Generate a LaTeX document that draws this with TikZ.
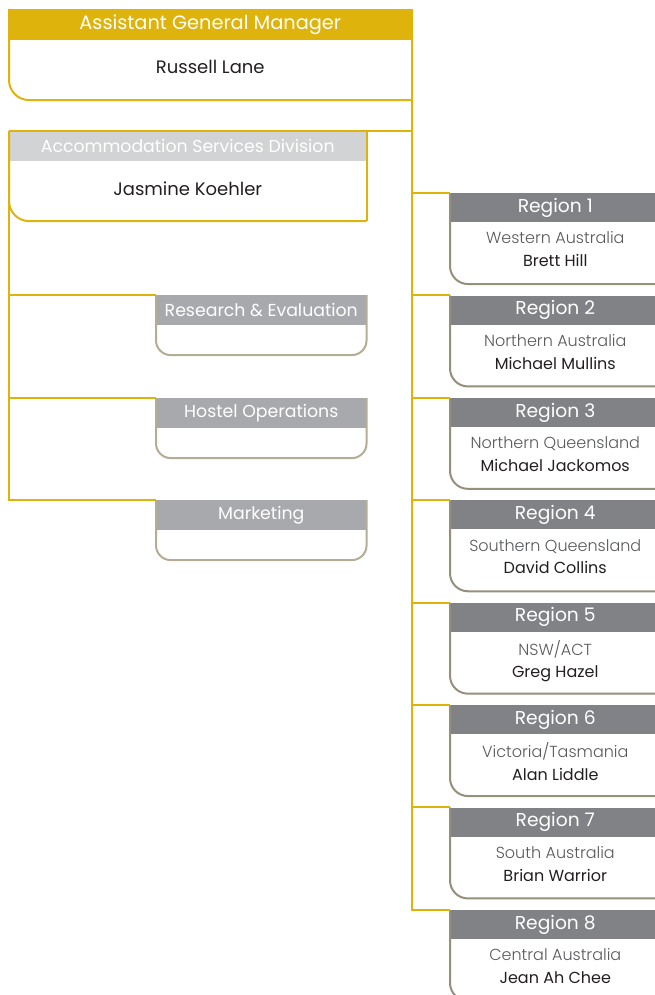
\documentclass[tikz,border=0pt]{standalone}
\usepackage{fontspec}
\setmainfont{Poppins}
\newfontfamily\lightfont{Poppins Light}
\definecolor{gold}{HTML}{DDB30C}
\definecolor{palegrey}{HTML}{D1D3D4}
\definecolor{midgrey}{HTML}{A7A9AC}
\definecolor{darkgrey}{HTML}{808285}
\definecolor{tanline}{HTML}{B4AD95}
\definecolor{regline}{HTML}{958F7C}
\definecolor{ink}{HTML}{231F20}
\definecolor{subink}{HTML}{58595B}

\begin{document}
\begin{tikzpicture}[x=0.75pt,y=-0.75pt,
		link/.style={gold,line width=1.5pt},
		hdr/.style={anchor=north west,inner sep=0pt,text=white,
			font=\fontsize{14}{16}\selectfont},
		bdy/.style={anchor=north west,inner sep=0pt,align=center,text=ink,
			font=\fontsize{12}{17}\selectfont},
		person/.style={bdy,text depth=4.5pt,font=\fontsize{13.5}{16}\selectfont},
		unit/.style={hdr,fill=midgrey,minimum width=157.5pt,minimum height=22.5pt,
			font=\fontsize{13}{15}\selectfont},
		unitbody/.style={bdy,minimum width=157.5pt,minimum height=21.75pt},
		rhdr/.style={hdr,fill=darkgrey,minimum width=157.5pt,minimum height=21.75pt},
		rbody/.style={bdy,text depth=6pt,minimum width=157.5pt,minimum height=45.75pt},
		box/.style={tanline,line width=1.5pt},
		rbox/.style={regline,line width=1.5pt}]
	\useasboundingbox (0,0) rectangle (654,995);

	% manager
	\node [hdr,fill=gold,minimum width=301.5pt,minimum height=23.25pt,
		font=\fontsize{14.5}{16}\selectfont] (agm) at (9,9) {Assistant General Manager};
	\node [person,minimum width=301.5pt,minimum height=44.25pt] (agmb) at (agm.south west) {Russell Lane};
	\draw [link,rounded corners=15pt] (agm.north west) |- (agmb.south east);
	\draw [link] (agmb.south east) -- (agm.north east);

	% division
	\node [hdr,fill=palegrey,minimum width=267.75pt,minimum height=22.5pt,
		font=\fontsize{13}{15}\selectfont] (asd) at (9,131) {Accommodation Services Division};
	\node [person,minimum width=267.75pt,minimum height=44.25pt] (asdb) at (asd.south west) {Jasmine Koehler};
	\draw [link,rounded corners=15pt] (asd.north west) |- (asdb.south east);
	\draw [link] (asdb.south east) -- (asd.north east);
	\draw [link] (asd.north west) -- (asd.north west -| agm.east);

	% units
	\node [unit] (res) at (156,295) {Research \& Evaluation};
	\node [unitbody] (resb) at (res.south west) {};
	\node [unit] (hos) at (156,398) {Hostel Operations};
	\node [unitbody] (hosb) at (hos.south west) {};
	\node [unit] (mkt) at (156,500) {Marketing};
	\node [unitbody] (mktb) at (mkt.south west) {};
	\draw [box,rounded corners=11pt] (res.north west) |- (resb.south east) -- (res.north east);
	\draw [box,rounded corners=11pt] (hos.north west) |- (hosb.south east) -- (hos.north east);
	\draw [box,rounded corners=11pt] (mkt.north west) |- (mktb.south east) -- (mkt.north east);

	\draw [link] (asd.north west) |- (mkt.north west);
	\draw [link] (res.north west -| asd.west) -- (res.north west);
	\draw [link] (hos.north west -| asd.west) -- (hos.north west);

	% regions
	\foreach \n/\area/\who in {1/Western Australia/Brett Hill,
			2/Northern Australia/Michael Mullins,
			3/Northern Queensland/Michael Jackomos,
			4/Southern Queensland/David Collins,
			5/NSW\slash ACT/Greg Hazel,
			6/Victoria\slash Tasmania/Alan Liddle,
			7/South Australia/Brian Warrior,
			8/Central Australia/Jean Ah Chee} {
		\node [rhdr] (r\n) at (450,{193+102.4*(\n-1)}) {Region \n};
		\node [rbody] (r\n b) at (r\n.south west) {{\lightfont\color{subink}\area}\\\who};
		\draw [rbox,rounded corners=13.5pt] (r\n.north west) |- (r\n b.south east);
	}
	\draw [link] (agm.north east) |- (r8.north west);
	\foreach \n in {1,...,7}
		\draw [link] (r\n.north west -| agm.east) -- (r\n.north west);
\end{tikzpicture}
\end{document}
